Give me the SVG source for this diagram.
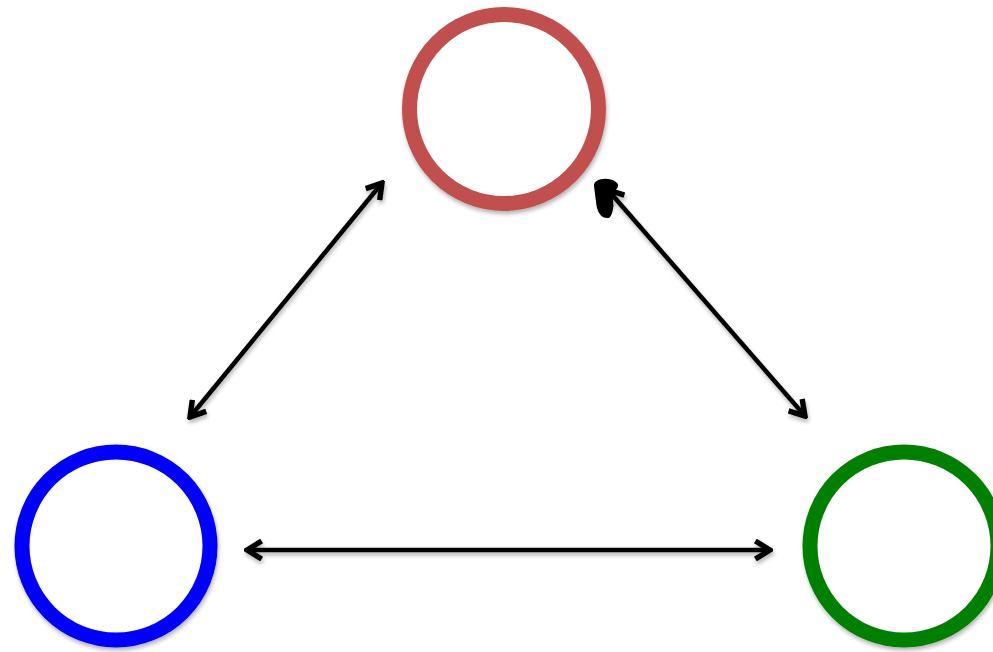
<svg xmlns="http://www.w3.org/2000/svg" width="993" height="652" viewBox="0 0 993 652">
<defs>
<filter id="sh" filterUnits="userSpaceOnUse" x="0" y="0" width="993" height="652">
<feGaussianBlur in="SourceAlpha" stdDeviation="2"/>
<feOffset dx="1" dy="3" result="b"/>
<feComponentTransfer><feFuncA type="linear" slope="0.3"/></feComponentTransfer>
<feMerge><feMergeNode/><feMergeNode in="SourceGraphic"/></feMerge>
</filter>
<marker id="ah" viewBox="0 0 10 10" refX="8.5" refY="5" markerWidth="5" markerHeight="5" orient="auto-start-reverse" markerUnits="strokeWidth">
<polyline points="2,1 8.5,5 2,9" fill="none" stroke="#000" stroke-width="2.4" stroke-linejoin="miter"/>
</marker>
<style>
.node{fill:#fff;stroke-width:15;filter:url(#sh)}
.edge{stroke:#000;stroke-width:4.5;fill:none;marker-start:url(#ah);marker-end:url(#ah);filter:url(#sh)}
</style>
</defs>
<rect width="993" height="652" fill="#fff"/>
<g id="node-red"><circle class="node" cx="504" cy="109" r="94.5" stroke="#c0504d"/></g>
<g id="node-blue"><circle class="node" cx="116" cy="546" r="94" stroke="#0000ff"/></g>
<g id="node-green"><circle class="node" cx="904" cy="546" r="94" stroke="#008000"/></g>
<g id="connectors">
<line class="edge" x1="190" y1="417" x2="382" y2="183"/>
<line class="edge" x1="608" y1="190" x2="805" y2="416"/>
<line class="edge" x1="247" y1="550" x2="770" y2="550"/>
<path d="M594,186 C593,179 608,176 616,182 C621,186 616,190 612,193 C614,203 614,214 609,218 C601,219 597,212 596,202 Z" fill="#000"/>
</g>
</svg>
